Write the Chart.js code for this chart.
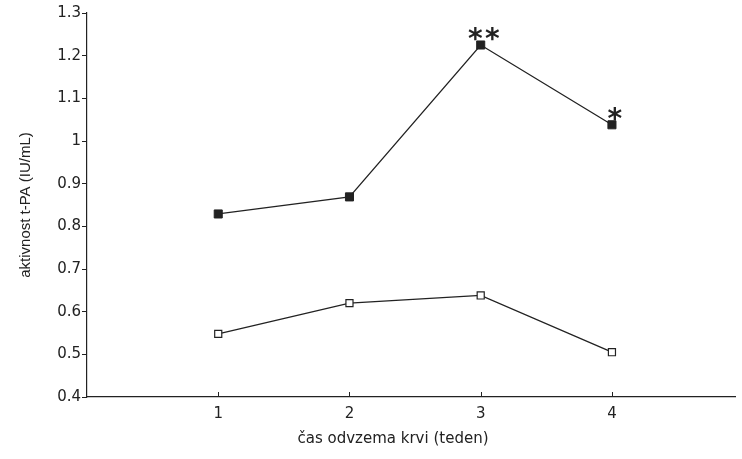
<!DOCTYPE html>
<html>
<head>
<meta charset="utf-8">
<script src="https://cdn.jsdelivr.net/npm/chart.js@4"></script>
<style>
  html, body { margin: 0; padding: 0; background: #fff; }
  #wrap { width: 742px; height: 459px; }
</style>
</head>
<body>
<div id="wrap"><canvas id="graf"></canvas></div>
<script>
// tedni odvzema krvi
const tedni = [1, 2, 3, 4];
// aktivnost t-PA (IU/mL)
const skupinaPolna = [0.829, 0.869, 1.225, 1.038];
const skupinaPrazna = [0.548, 0.62, 0.638, 0.505];
// oznake statistične značilnosti nad polno skupino
const znacilnost = [0, 0, 2, 1];
const yTicks = [0.4, 0.5, 0.6, 0.7, 0.8, 0.9, 1, 1.1, 1.2, 1.3];
const naslovX = 'čas odvzema krvi (teden)';

const barva = '#222';
const pisava = 'Liberation Sans, Arial, sans-serif';
const siroka = 'DejaVu Sans, Verdana, sans-serif';

// zvezdice, naslov osi x in notranje kljukice na osi x
const dodatki = {
    id: 'dodatki',
    afterDraw(chart) {
        const ctx = chart.ctx;
        const x = chart.scales.x, y = chart.scales.y;
        ctx.save();
        ctx.strokeStyle = barva;
        ctx.lineWidth = 1;
        tedni.forEach(t => {
            const px = Math.round(x.getPixelForValue(t)) + 0.5;
            ctx.beginPath();
            ctx.moveTo(px, y.bottom);
            ctx.lineTo(px, y.bottom - 5);
            ctx.stroke();
        });
        ctx.fillStyle = barva;
        ctx.textAlign = 'center';
        ctx.textBaseline = 'alphabetic';
        ctx.font = 'bold 28px ' + siroka;
        znacilnost.forEach((n, i) => {
            if (!n) return;
            const px = x.getPixelForValue(tedni[i]) + 3;
            const py = y.getPixelForValue(skupinaPolna[i]) + 3;
            for (let k = 0; k < n; k++) {
                ctx.fillText('*', px + (k - (n - 1) / 2) * 17, py);
            }
        });
        ctx.font = '15px ' + siroka;
        ctx.textBaseline = 'middle';
        ctx.fillText(naslovX, 393, 439);
        ctx.restore();
    }
};

const ctx = document.getElementById('graf').getContext('2d');
new Chart(ctx, {
    type: 'line',
    data: {
        datasets: [{
            data: tedni.map((t, i) => ({ x: t, y: skupinaPolna[i] })),
            borderColor: barva,
            borderWidth: 1.3,
            pointStyle: 'rect',
            pointRadius: 5.7,
            pointBackgroundColor: barva,
            pointBorderColor: barva,
            pointBorderWidth: 1
        }, {
            data: tedni.map((t, i) => ({ x: t, y: skupinaPrazna[i] })),
            borderColor: barva,
            borderWidth: 1.3,
            pointStyle: 'rect',
            pointRadius: 5,
            pointBackgroundColor: '#fff',
            pointBorderColor: barva,
            pointBorderWidth: 1.2
        }]
    },
    options: {
        responsive: true,
        maintainAspectRatio: false,
        animation: false,
        layout: { padding: { top: 13, left: 17, right: 0, bottom: 0 } },
        plugins: {
            legend: { display: false },
            tooltip: { enabled: false }
        },
        scales: {
            x: {
                type: 'linear',
                min: 0,
                max: 4.94,
                afterBuildTicks: s => { s.ticks = tedni.map(v => ({ value: v })); },
                afterFit: s => { s.height = 62; },
                grid: { display: false, drawTicks: false },
                border: { display: true, color: barva, width: 1.2 },
                ticks: {
                    color: barva,
                    font: { family: siroka, size: 15 },
                    padding: 8
                }
            },
            y: {
                min: 0.4,
                max: 1.3,
                afterBuildTicks: s => { s.ticks = yTicks.map(v => ({ value: v })); },
                afterFit: s => { s.width = 70; },
                grid: { drawOnChartArea: false, tickLength: 5, color: barva },
                border: { display: true, color: barva, width: 1.2 },
                ticks: {
                    color: barva,
                    font: { family: siroka, size: 15 },
                    padding: 1,
                    callback: v => String(v)
                },
                title: {
                    display: true,
                    text: 'aktivnost t-PA (IU/mL)',
                    color: barva,
                    font: { family: pisava, size: 15 },
                    padding: { top: 0, bottom: 0 }
                }
            }
        }
    },
    plugins: [dodatki]
});
</script>
</body>
</html>
